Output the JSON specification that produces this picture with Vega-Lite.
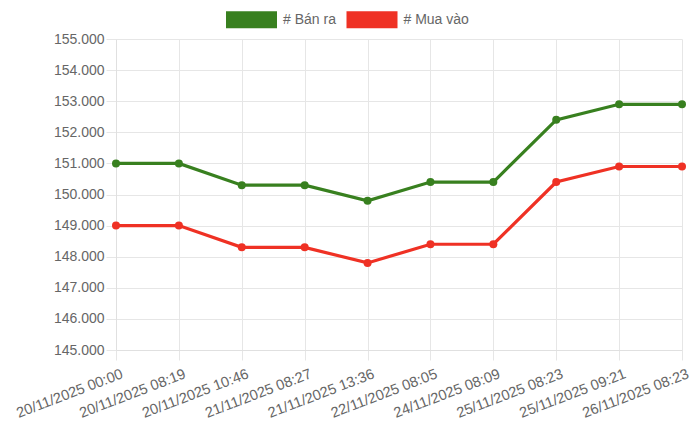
{
  "$schema": "https://vega.github.io/schema/vega-lite/v6.json",
  "width": 566,
  "height": 311,
  "autosize": {"type": "none"},
  "padding": {"left": 116, "top": 39, "right": 18, "bottom": 83},
  "background": "white",
  "config": {
    "font": "Liberation Sans",
    "view": {"stroke": null},
    "axis": {
      "labelFont": "Liberation Sans",
      "labelFontSize": 14,
      "labelColor": "#666666",
      "gridColor": "#e6e6e6",
      "domainColor": "#e0e0e0",
      "tickColor": "#e6e6e6",
      "tickSize": 10,
      "title": null
    }
  },
  "data": {
    "values": [
      {"time": "20/11/2025 00:00", "series": "# Bán ra", "price": 151000},
      {"time": "20/11/2025 08:19", "series": "# Bán ra", "price": 151000},
      {"time": "20/11/2025 10:46", "series": "# Bán ra", "price": 150300},
      {"time": "21/11/2025 08:27", "series": "# Bán ra", "price": 150300},
      {"time": "21/11/2025 13:36", "series": "# Bán ra", "price": 149800},
      {"time": "22/11/2025 08:05", "series": "# Bán ra", "price": 150400},
      {"time": "24/11/2025 08:09", "series": "# Bán ra", "price": 150400},
      {"time": "25/11/2025 08:23", "series": "# Bán ra", "price": 152400},
      {"time": "25/11/2025 09:21", "series": "# Bán ra", "price": 152900},
      {"time": "26/11/2025 08:23", "series": "# Bán ra", "price": 152900},
      {"time": "20/11/2025 00:00", "series": "# Mua vào", "price": 149000},
      {"time": "20/11/2025 08:19", "series": "# Mua vào", "price": 149000},
      {"time": "20/11/2025 10:46", "series": "# Mua vào", "price": 148300},
      {"time": "21/11/2025 08:27", "series": "# Mua vào", "price": 148300},
      {"time": "21/11/2025 13:36", "series": "# Mua vào", "price": 147800},
      {"time": "22/11/2025 08:05", "series": "# Mua vào", "price": 148400},
      {"time": "24/11/2025 08:09", "series": "# Mua vào", "price": 148400},
      {"time": "25/11/2025 08:23", "series": "# Mua vào", "price": 150400},
      {"time": "25/11/2025 09:21", "series": "# Mua vào", "price": 150900},
      {"time": "26/11/2025 08:23", "series": "# Mua vào", "price": 150900}
    ]
  },
  "mark": {
    "type": "line",
    "strokeWidth": 3.2,
    "point": {"filled": true, "size": 64, "opacity": 1}
  },
  "encoding": {
    "x": {
      "field": "time",
      "type": "ordinal",
      "sort": null,
      "scale": {"type": "point", "padding": 0},
      "axis": {
        "labelAngle": -21,
        "labelAlign": "right",
        "labelBaseline": "top",
        "labelFontSize": 14.6,
        "labelPadding": 6,
        "labelOffset": 3,
        "grid": true,
        "labelOverlap": false
      }
    },
    "y": {
      "field": "price",
      "type": "quantitative",
      "scale": {"domain": [145000, 155000], "nice": false, "zero": false},
      "axis": {
        "values": [145000, 146000, 147000, 148000, 149000, 150000, 151000, 152000, 153000, 154000, 155000],
        "labelExpr": "replace(format(datum.value, ',.0f'), ',', '.')",
        "labelPadding": 2,
        "grid": true
      }
    },
    "color": {
      "field": "series",
      "type": "nominal",
      "scale": {"domain": ["# Bán ra", "# Mua vào"], "range": ["#38801f", "#ef3124"]},
      "legend": {
        "title": null,
        "orient": "none",
        "direction": "horizontal",
        "legendX": 118.5,
        "legendY": -36.5,
        "symbolType": "M-1.5,-0.5H1.5V0.5H-1.5Z",
        "symbolSize": 1156,
        "symbolStrokeWidth": 0,
        "labelFont": "Liberation Sans",
        "labelFontSize": 14,
        "labelColor": "#666666",
        "labelOffset": 14.5,
        "columnPadding": 9.5,
        "encode": {
          "symbols": {"update": {"fill": {"scale": "color", "field": "value"}, "opacity": {"value": 1}}}
        }
      }
    }
  }
}
